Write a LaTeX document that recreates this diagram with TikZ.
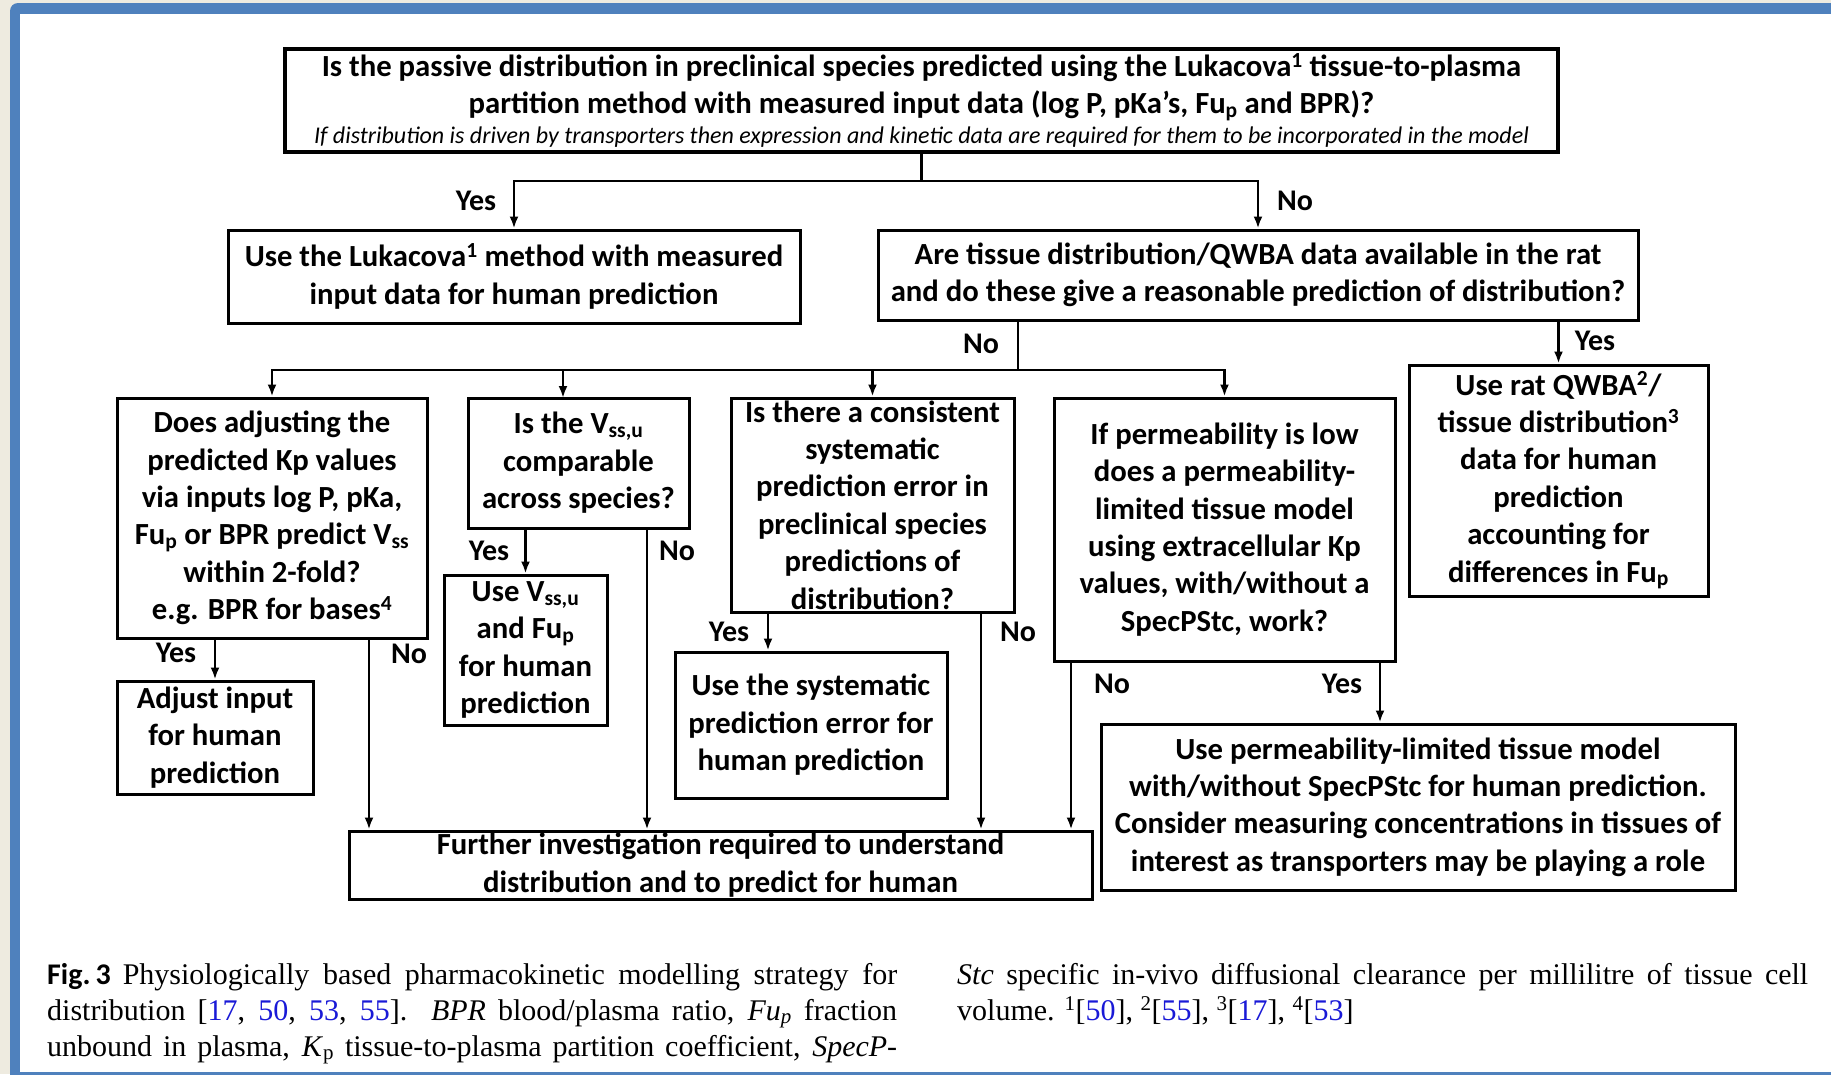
\documentclass[tikz,border=0pt]{standalone}
\usepackage{fontspec}
\setmainfont{Carlito}
\newfontfamily\capfont{Liberation Serif}
\usetikzlibrary{arrows.meta}
\definecolor{frameblue}{RGB}{79,129,189}
\definecolor{pagebg}{RGB}{238,235,224}
\definecolor{linkblue}{RGB}{25,25,215}
\newcommand{\capline}[1]{\makebox[850pt][s]{#1}}
\newcommand{\refnum}[1]{{\color{linkblue}#1}}

\begin{document}
\begin{tikzpicture}[x=1pt,y=-1pt,
  box/.style={draw,line width=3pt,inner sep=0pt,align=center,
    font=\bfseries\fontsize{30.7}{37.4}\selectfont},
  lbl/.style={inner sep=0pt,font=\bfseries\fontsize{30}{34}\selectfont},
  conn/.style={line width=2.6pt},
  arr/.style={conn,-{Latex[length=12pt,width=9pt]}},
  captext/.style={inner sep=0pt,align=left,font=\capfont\fontsize{30}{36}\selectfont}]

% page and frame
\useasboundingbox (0,0) rectangle (1831,1074);
\clip (0,0) rectangle (1831,1074);
\fill[pagebg] (0,0) rectangle (1831,1074);
\fill[frameblue,rounded corners=8pt] (10,3) rectangle (1860,1100);
\fill[white] (20,14) rectangle (1831,1072);

% first question
\node[box,line width=3.4pt,minimum width=1273pt,minimum height=103pt] (Q) at (921.5,100.5)
  {Is the passive distribution in preclinical species predicted using the Lukacova\textsuperscript{1} tissue-to-plasma\\
   partition method with measured input data (log P, pKa’s, Fu\textsubscript{p} and BPR)?\\[-7pt]
   {\mdseries\itshape\fontsize{24}{27}\selectfont If distribution is driven by transporters then expression and kinetic data are required for them to be incorporated in the model}};

% second row
\node[box,minimum width=572pt,minimum height=93pt] (L) at (514,276.5)
  {Use the Lukacova\textsuperscript{1} method with measured\\input data for human prediction};
\node[box,minimum width=760pt,minimum height=90pt] (R) at (1258,275)
  {Are tissue distribution/QWBA data available in the rat\\and do these give a reasonable prediction of distribution?};

% third row
\node[box,minimum width=310pt,minimum height=240pt] (A) at (272,518)
  {Does adjusting the\\predicted Kp values\\via inputs log P, pKa,\\Fu\textsubscript{p} or BPR predict V\textsubscript{ss}\\within 2-fold?\\e.g. BPR for bases\textsuperscript{4}};
\node[box,minimum width=221pt,minimum height=130pt] (B) at (578.5,463)
  {Is the V\textsubscript{ss,u}\\comparable\\across species?};
\node[box,minimum width=283pt,minimum height=214pt] (C) at (872.5,505)
  {Is there a consistent\\systematic\\prediction error in\\preclinical species\\predictions of\\distribution?};
\node[box,minimum width=341pt,minimum height=263pt] (D) at (1224.5,529.5)
  {If permeability is low\\does a permeability-\\limited tissue model\\using extracellular Kp\\values, with/without a\\SpecPStc, work?};
\node[box,minimum width=299pt,minimum height=231pt] (E) at (1558.5,480.5)
  {Use rat QWBA\textsuperscript{2}/\\tissue distribution\textsuperscript{3}\\data for human\\prediction\\accounting for\\differences in Fu\textsubscript{p}};

% answers
\node[box,minimum width=196pt,minimum height=113pt] (F) at (215,737.5)
  {Adjust input\\for human\\prediction};
\node[box,minimum width=163pt,minimum height=150pt] (G) at (525.5,650)
  {Use V\textsubscript{ss,u}\\and Fu\textsubscript{p}\\for human\\prediction};
\node[box,minimum width=272pt,minimum height=146pt] (H) at (811,725)
  {Use the systematic\\prediction error for\\human prediction};
\node[box,minimum width=634pt,minimum height=166pt] (I) at (1418,807)
  {Use permeability-limited tissue model\\with/without SpecPStc for human prediction.\\Consider measuring concentrations in tissues of\\interest as transporters may be playing a role};
\node[box,minimum width=743pt,minimum height=68pt] (J) at (720.5,865)
  {Further investigation required to understand\\distribution and to predict for human};

% junctions
\coordinate (q1) at (921.5,181);
\coordinate (r1) at (1018,370);

% connectors
\draw[conn] (Q.south) -- (q1);
\draw[arr] (q1) -| (L.north);
\draw[arr] (q1) -| (R.north);
\draw[conn] (R.south -| r1) -- (r1);
\draw[arr] (r1) -| (A.north);
\draw[arr] (r1) -| (563,398);
\draw[arr] (r1) -| (C.north);
\draw[arr] (r1) -| (D.north);
\draw[arr] (R.south -| E.north) -- (E.north);
\draw[arr] (A.south -| F.north) -- (F.north);
\draw[arr] (A.south -| 369,0) -- (J.north -| 369,0);
\draw[arr] (B.south -| G.north) -- (G.north);
\draw[arr] (B.south -| 647,0) -- (J.north -| 647,0);
\draw[arr] (C.south -| 768,0) -- (H.north -| 768,0);
\draw[arr] (C.south -| 981,0) -- (J.north -| 981,0);
\draw[arr] (D.south -| 1071,0) -- (J.north -| 1071,0);
\draw[arr] (D.south -| 1380,0) -- (I.north -| 1380,0);

% labels
\node[lbl] (y1) at (476,201) {Yes};
\node[lbl] (n1) at (1295,201) {No};
\node[lbl] (n2) at (981,344) {No};
\node[lbl] (y2) at (1595,341) {Yes};
\node[lbl] (y3) at (176,653) {Yes};
\node[lbl] (n3) at (409,654) {No};
\node[lbl] (y4) at (489,551) {Yes};
\node[lbl] (n4) at (677,551) {No};
\node[lbl] (y5) at (729,632) {Yes};
\node[lbl] (n5) at (1018,632) {No};
\node[lbl] (n6) at (1112,684) {No};
\node[lbl] (y6) at (1342,684) {Yes};

% caption
\node[captext,anchor=base west] (capL) at (47,1056)
  {\capline{{\rmfamily\bfseries Fig.\kern5pt3}\kern12pt Physiologically based pharmacokinetic modelling strategy for}\\
   \capline{distribution [\refnum{17}, \refnum{50}, \refnum{53}, \refnum{55}]. \textit{BPR} blood/plasma ratio, \textit{Fu\textsubscript{p}} fraction}\\
   \capline{unbound in plasma, \textit{K}\textsubscript{p} tissue-to-plasma partition coefficient, \textit{SpecP-}}};
\node[captext,anchor=base west] (capR) at (957,1020)
  {\makebox[851pt][s]{\textit{Stc} specific in-vivo diffusional clearance per millilitre of tissue cell}\\
   volume. \textsuperscript{1}[\refnum{50}], \textsuperscript{2}[\refnum{55}], \textsuperscript{3}[\refnum{17}], \textsuperscript{4}[\refnum{53}]};

\end{tikzpicture}
\end{document}
